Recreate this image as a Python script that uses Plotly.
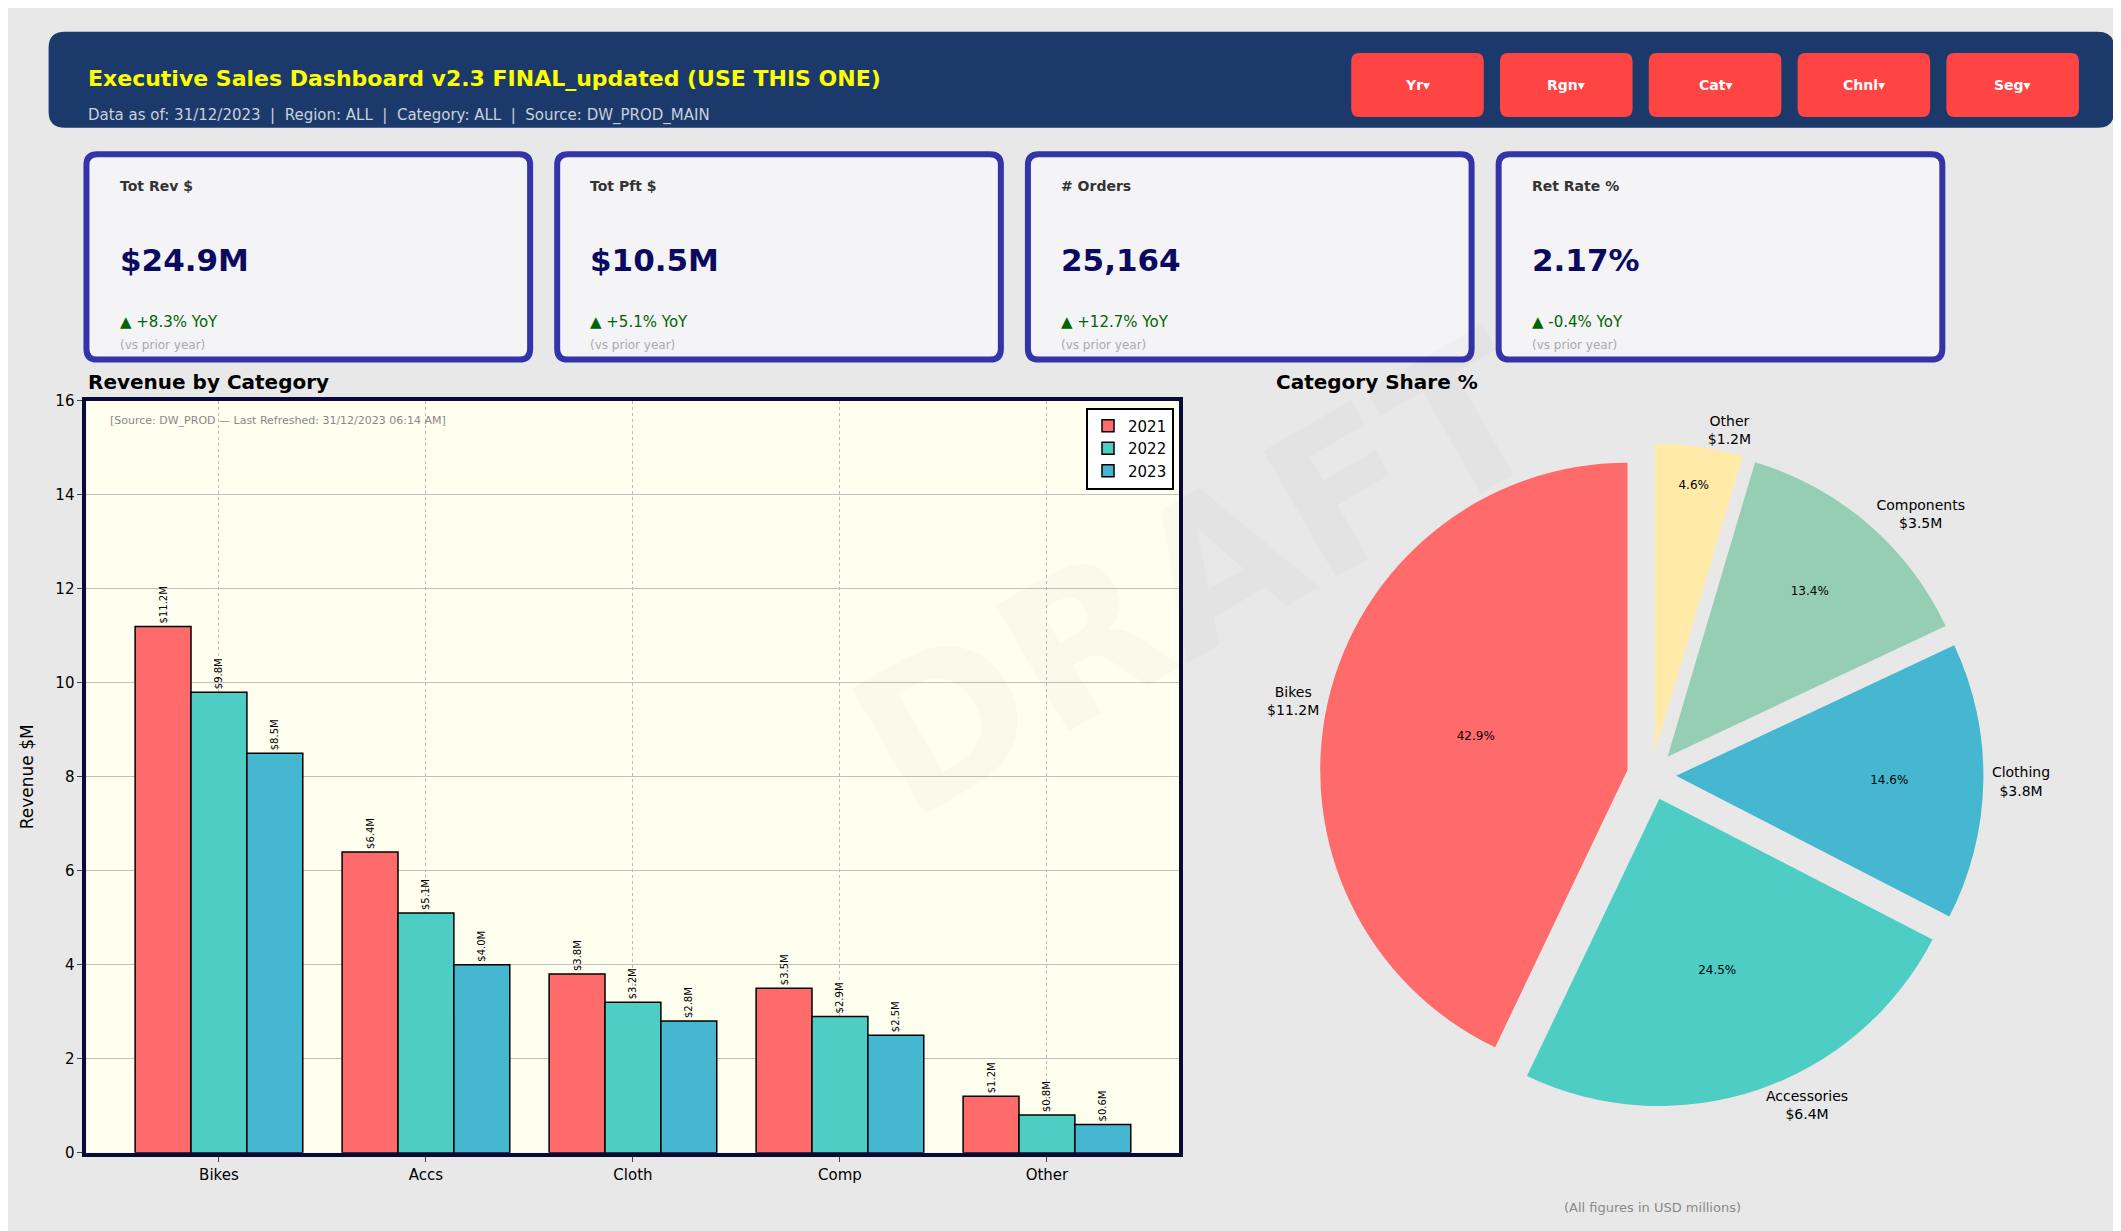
import plotly.graph_objects as go

# data
categories = ["Bikes", "Accs", "Cloth", "Comp", "Other"]
rev_2021 = [11.2, 6.4, 3.8, 3.5, 1.2]
rev_2022 = [9.8, 5.1, 3.2, 2.9, 0.8]
rev_2023 = [8.5, 4.0, 2.8, 2.5, 0.6]
years = ["2021", "2022", "2023"]

pie_labels = ["Bikes", "Accessories", "Clothing", "Components", "Other"]
pie_values = [11.2, 6.4, 3.8, 3.5, 1.2]

kpi_titles = ["Tot Rev $", "Tot Pft $", "# Orders", "Ret Rate %"]
kpi_values = ["$24.9M", "$10.5M", "25,164", "2.17%"]
kpi_deltas = ["▲ +8.3% YoY", "▲ +5.1% YoY", "▲ +12.7% YoY", "▲ -0.4% YoY"]
buttons = ["Yr▾", "Rgn▾", "Cat▾", "Chnl▾", "Seg▾"]

W, H = 2121, 1231
S = W / 1568  # reference was laid out on a 1568-wide grid


def px(x):
    return x * S / W


def py(y):
    return 1 - y * S / H


def rrect(x0, y0, x1, y1, r, fill, line=None):
    # rounded rectangle in reference px, drawn in paper coords
    rx, ry = r * S / W, r * S / H
    a, b, c, d = px(x0), px(x1), py(y1), py(y0)  # left, right, bottom, top
    path = (f"M{a+rx},{c} L{b-rx},{c} Q{b},{c} {b},{c+ry} L{b},{d-ry} Q{b},{d} {b-rx},{d} "
            f"L{a+rx},{d} Q{a},{d} {a},{d-ry} L{a},{c+ry} Q{a},{c} {a+rx},{c} Z")
    return dict(type="path", xref="paper", yref="paper", path=path, fillcolor=fill,
                line=line or dict(width=0), layer="below")


bar_colors = ["#ff6b6b", "#4ecdc4", "#45b7d1"]
pie_colors = ["#ff6b6b", "#4ecdc4", "#45b7d1", "#96ceb4", "#ffeaa7"]
FONT = "DejaVu Sans"

fig = go.Figure()

for yr, vals, col in zip(years, [rev_2021, rev_2022, rev_2023], bar_colors):
    fig.add_trace(go.Bar(
        x=categories, y=vals, name=yr, width=0.27,
        marker=dict(color=col, line=dict(color="black", width=1.5)),
        text=[f"${v}M" for v in vals], textposition="outside", textangle=-90,
        textfont=dict(size=10, color="black"), cliponaxis=False,
    ))

pie_dom = dict(x=[px(960), px(1470)], y=[py(818), py(320)])
# pie with percentages inside
fig.add_trace(go.Pie(
    labels=pie_labels[::-1], values=pie_values[::-1], sort=False, direction="clockwise",
    rotation=0, pull=0.08, marker=dict(colors=pie_colors[::-1], line=dict(width=0)),
    texttemplate="%{percent:.1%}", textposition="inside",
    insidetextorientation="horizontal", textfont=dict(size=12, color="black"),
    domain=pie_dom, showlegend=False, hoverinfo="skip",
))
# same pie, transparent, carrying the outside labels
fig.add_trace(go.Pie(
    labels=pie_labels[::-1], values=pie_values[::-1], sort=False, direction="clockwise",
    rotation=0, pull=0.08, marker=dict(colors=["rgba(0,0,0,0)"] * 5, line=dict(width=0)),
    text=[f"{l}<br>${v}M" for l, v in zip(pie_labels[::-1], pie_values[::-1])],
    textinfo="text", textposition="outside", textfont=dict(size=14, color="black"),
    domain=pie_dom, showlegend=False, hoverinfo="skip",
))

shapes = []
ann = []


def note(x, y, text, size, color, xanchor="left", **kw):
    ann.append(dict(x=px(x), y=py(y), xref="paper", yref="paper", text=text,
                    font=dict(size=size, color=color), xanchor=xanchor, yanchor="middle",
                    showarrow=False, **kw))


# header
shapes.append(rrect(30, 11, 1557, 83, 12, "#1b3a6b"))
note(58, 46, "<b>Executive Sales Dashboard v2.3 FINAL_updated (USE THIS ONE)</b>", 22, "#ffff00")
note(58, 74, "Data as of: 31/12/2023  |  Region: ALL  |  Category: ALL  |  Source: DW_PROD_MAIN", 15, "#c8d0dc")
for i, b in enumerate(buttons):
    x0 = 993 + i * 110
    shapes.append(rrect(x0, 27, x0 + 98, 75, 6, "#ff4444"))
    note(x0 + 49, 51, f"<b>{b}</b>", 14, "white", xanchor="center")

# KPI cards
for i in range(4):
    x0 = 58 + i * 348
    shapes.append(rrect(x0, 103, x0 + 328, 257, 8, "#f4f4f6", dict(color="#3333aa", width=6)))
    note(x0 + 23, 127, f"<b>{kpi_titles[i]}</b>", 14, "#333333")
    note(x0 + 23, 182, f"<b>{kpi_values[i]}</b>", 31, "#0a0a60")
    note(x0 + 23, 229, kpi_deltas[i], 15, "#006400")
    note(x0 + 23, 246, "(vs prior year)", 12, "#aaaaaa")

# titles and notes
note(58, 274, "<b>Revenue by Category</b>", 20, "black")
note(1012, 274, "<b>Category Share %</b>", 20, "black", xanchor="center")
note(74, 303, "[Source: DW_PROD — Last Refreshed: 31/12/2023 06:14 AM]", 11, "#888888")
note(1216, 893, "(All figures in USD millions)", 13, "#888888", xanchor="center")
note(880, 420, "<b>DRAFT</b>", 200, "rgba(0,0,0,0.018)", xanchor="center", textangle=-30)

fig.update_layout(
    width=W, height=H, margin=dict(l=0, r=0, t=0, b=0),
    paper_bgcolor="#e8e8e8", plot_bgcolor="#fffff0",
    font=dict(family=FONT, color="black"),
    barmode="group", bargap=0.19, bargroupgap=0,
    shapes=shapes, annotations=ann,
    xaxis=dict(domain=[px(58), px(866)], anchor="y", range=[-0.64, 4.64], showline=True,
               linecolor="#0a0a3a", linewidth=4, mirror=True, showgrid=True, gridcolor="#bbbbbb",
               griddash="dot", ticks="outside", tickfont=dict(size=15)),
    yaxis=dict(domain=[py(852), py(288)], range=[0, 16], dtick=2, showline=True, linecolor="#0a0a3a",
               linewidth=4, mirror=True, showgrid=True, gridcolor="#c0c0c0", zeroline=False,
               ticks="outside", tickfont=dict(size=15),
               title=dict(text="Revenue $M", font=dict(size=17), standoff=18)),
    legend=dict(x=px(862), y=py(293), xanchor="right", yanchor="top", bgcolor="white",
                bordercolor="black", borderwidth=2, font=dict(size=15)),
)

fig.write_html("out.html")
